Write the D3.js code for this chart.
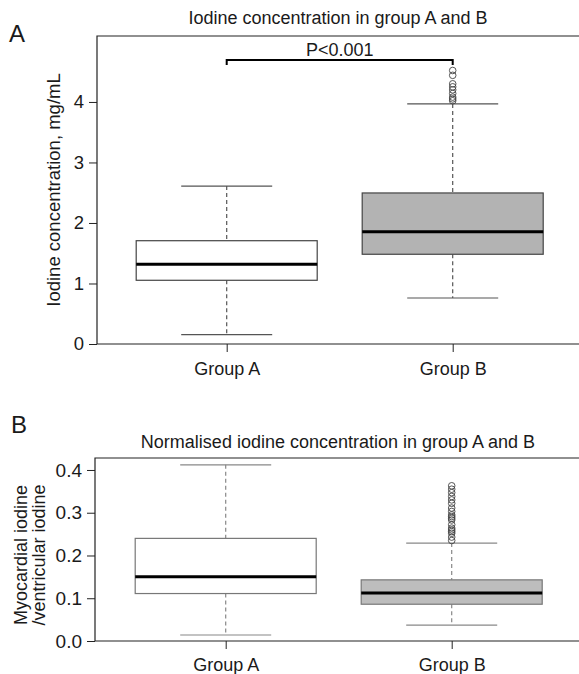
<!DOCTYPE html>
<html><head><meta charset="utf-8">
<script src="https://cdn.jsdelivr.net/npm/d3@7"></script>
<style>
body{margin:0;background:#fff;}
svg text{font-family:"Liberation Sans",Arial,Helvetica,sans-serif;fill:#1a1a1a;}
</style></head>
<body><svg id="c" width="579" height="674"></svg>
<script>
// ---- data ----
const groups = ["Group A", "Group B"];
// Panel A: iodine concentration (mg/mL)
const statsA = [
  {lo: 0.154, q1: 1.053, med: 1.317, q3: 1.707, hi: 2.61},
  {lo: 0.76, q1: 1.483, med: 1.857, q3: 2.496, hi: 3.967}
];
const outliersA = [[], [4.52, 4.44, 4.30, 4.25, 4.20, 4.14, 4.08, 4.05, 4.02]];
const ticksA = [0, 1, 2, 3, 4];
// Panel B: normalised iodine
const statsB = [
  {lo: 0.014, q1: 0.111, med: 0.150, q3: 0.240, hi: 0.412},
  {lo: 0.037, q1: 0.086, med: 0.112, q3: 0.143, hi: 0.229}
];
const outliersB = [[], [0.363, 0.355, 0.347, 0.338, 0.330, 0.322, 0.311, 0.303, 0.295, 0.291, 0.287, 0.283, 0.272, 0.264, 0.260, 0.256, 0.252, 0.243, 0.235]];
const ticksB = [0.0, 0.1, 0.2, 0.3, 0.4];

const FS = 18;
const svg = d3.select("#c");

function panel(cfg){
  const g = svg.append("g");
  const x = d3.scalePoint().domain(groups).range(cfg.xr);
  const y = d3.scaleLinear().domain(cfg.yd).range(cfg.yr);
  const bw = 181, cw = 91;
  // frame
  g.append("path").attr("d", `M600,${cfg.yr[1]}H${cfg.left}V${cfg.yr[0]}H600`)
    .attr("fill","none").attr("stroke",cfg.frame).attr("stroke-width",1.2);
  // y axis
  const ya = g.append("g").attr("transform",`translate(${cfg.left},0)`)
    .call(d3.axisLeft(y).tickValues(cfg.ticks).tickSize(8).tickPadding(5).tickFormat(cfg.fmt));
  ya.select(".domain").remove();
  ya.attr("font-size",cfg.tfs).attr("font-family","Liberation Sans, Arial, sans-serif");
  ya.selectAll("line").attr("stroke","#222").attr("stroke-width",1);
  ya.selectAll("text").attr("fill","#1a1a1a");
  // x axis
  const xa = g.append("g").attr("transform",`translate(0,${cfg.yr[0]})`)
    .call(d3.axisBottom(x).tickSize(8).tickPadding(cfg.xpad));
  xa.select(".domain").remove();
  xa.attr("font-size",FS).attr("font-family","Liberation Sans, Arial, sans-serif");
  xa.selectAll("line").attr("stroke","#222").attr("stroke-width",1);
  xa.selectAll("text").attr("fill","#1a1a1a");
  // boxes
  cfg.stats.forEach((s,i)=>{
    const cx = x(groups[i]);
    g.append("line").attr("x1",cx).attr("x2",cx).attr("y1",y(s.hi)).attr("y2",y(s.q3))
      .attr("stroke",cfg.wh).attr("stroke-width",1.2).attr("stroke-dasharray","4,3");
    g.append("line").attr("x1",cx).attr("x2",cx).attr("y1",y(s.q1)).attr("y2",y(s.lo))
      .attr("stroke",cfg.wh).attr("stroke-width",1.2).attr("stroke-dasharray","4,3");
    [s.hi, s.lo].forEach(v=>{
      g.append("line").attr("x1",cx-cw/2).attr("x2",cx+cw/2).attr("y1",y(v)).attr("y2",y(v))
        .attr("stroke",cfg.wh).attr("stroke-width",1.2);
    });
    g.append("rect").attr("x",cx-bw/2).attr("width",bw).attr("y",y(s.q3)).attr("height",y(s.q1)-y(s.q3))
      .attr("fill",cfg.fills[i]).attr("stroke",cfg.bx).attr("stroke-width",1.2);
    g.append("line").attr("x1",cx-bw/2).attr("x2",cx+bw/2).attr("y1",y(s.med)).attr("y2",y(s.med))
      .attr("stroke","#000").attr("stroke-width",3);
    cfg.out[i].forEach(v=>{
      g.append("circle").attr("cx",cx).attr("cy",y(v)).attr("r",3.3)
        .attr("fill","none").attr("stroke","#444").attr("stroke-width",0.9);
    });
  });
  return {x,y};
}

const pA = panel({xr:[226.7,452.7], yd:[0,5.09], yr:[344,36], left:97, ticks:ticksA, fmt:d3.format("d"), tfs:18.5,
  stats:statsA, out:outliersA, fills:["#ffffff","#b3b3b3"], bx:"#444", wh:"#555", frame:"#222", xpad:10});
const pB = panel({xr:[225.7,451.7], yd:[0,0.428], yr:[641,458], left:95, ticks:ticksB, fmt:d3.format(".1f"), tfs:19,
  stats:statsB, out:outliersB, fills:["#ffffff","#bdbdbd"], bx:"#777", wh:"#888", frame:"#222", xpad:9});

// significance bracket
const bx1 = pA.x(groups[0]), bx2 = pA.x(groups[1]);
svg.append("path").attr("d",`M${bx1},65V60H${bx2}V65`).attr("fill","none").attr("stroke","#000").attr("stroke-width",2);
svg.append("text").attr("x",(bx1+bx2)/2).attr("y",56).attr("text-anchor","middle").attr("font-size",FS).text("P<0.001");

// titles and labels
svg.append("text").attr("x",338).attr("y",24).attr("text-anchor","middle").attr("font-size",18).text("Iodine concentration in group A and B");
svg.append("text").attr("x",338).attr("y",448).attr("text-anchor","middle").attr("font-size",18).text("Normalised iodine concentration in group A and B");
svg.append("text").attr("x",9).attr("y",42).attr("font-size",24).text("A");
svg.append("text").attr("x",11).attr("y",433).attr("font-size",24).text("B");
svg.append("text").attr("transform","translate(60,190) rotate(-90)").attr("text-anchor","middle").attr("font-size",18.5).text("Iodine concentration, mg/mL");
svg.append("text").attr("transform","translate(27,555) rotate(-90)").attr("text-anchor","middle").attr("font-size",18).text("Myocardial iodine");
svg.append("text").attr("transform","translate(45,555) rotate(-90)").attr("text-anchor","middle").attr("font-size",18).text("/ventricular iodine");
</script></body></html>
